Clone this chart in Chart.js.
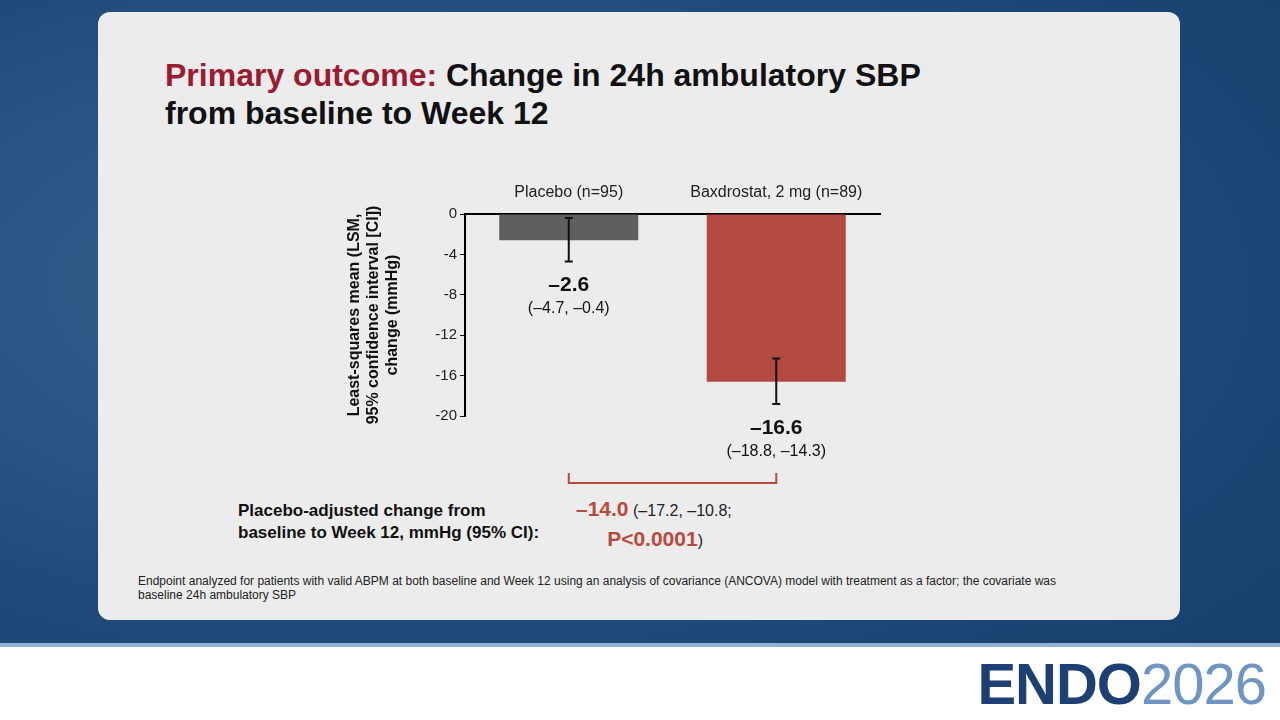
<!DOCTYPE html>
<html><head><meta charset="utf-8">
<script src="https://cdn.jsdelivr.net/npm/chart.js@4"></script>
<style>
body{margin:0;width:1280px;height:720px;overflow:hidden;font-family:"Liberation Sans",Arial,sans-serif;
 background:radial-gradient(ellipse at 30% 40%,#3a6592 0%,#1f4a7a 55%,#163d6b 100%);position:relative}
.card{position:absolute;left:98px;top:12px;width:1082px;height:608px;background:#ececec;border-radius:12px}
.title{position:absolute;left:165px;top:56px;font-size:32px;font-weight:bold;color:#111;line-height:38px}
.title span{color:#9b1b30}
.foot{position:absolute;left:138px;top:574px;font-size:12px;color:#222;width:945px;line-height:14px}
.adj{position:absolute;left:238px;top:500px;font-size:17px;font-weight:bold;color:#111;line-height:22px}
.res{position:absolute;left:576px;top:495px;font-size:16px;color:#222;line-height:28px}
.res b{color:#b84a3d;font-size:21px}
.band{position:absolute;left:0;top:643px;width:1280px;height:77px;background:#fff;border-top:4px solid #8fb2d6}
.logo{position:absolute;right:14px;top:650px;font-size:58px;color:#1d3f73;letter-spacing:-1px}
.logo b{font-weight:bold}
.logo span{color:#6f95c4;font-weight:normal}
canvas{position:absolute}
</style></head><body>
<div class="card"></div>
<div class="title"><span>Primary outcome:</span> Change in 24h ambulatory SBP<br>from baseline to Week 12</div>
<div class="adj">Placebo-adjusted change from<br>baseline to Week 12, mmHg (95% CI):</div>
<div class="res"><b>–14.0</b> (–17.2, –10.8;<br>&nbsp;&nbsp;&nbsp;&nbsp;&nbsp;&nbsp;&nbsp;<b>P&lt;0.0001</b>)</div>
<div class="foot">Endpoint analyzed for patients with valid ABPM at both baseline and Week 12 using an analysis of covariance (ANCOVA) model with treatment as a factor; the covariate was baseline 24h ambulatory SBP</div>
<div class="band"></div>
<div class="logo"><b>ENDO</b><span>2026</span></div>
<div style="position:absolute;left:345px;top:180px;width:560px;height:320px"><canvas id="c"></canvas></div>
<script>
const groups = ['Placebo (n=95)', 'Baxdrostat, 2 mg (n=89)'];
const means = [-2.6, -16.6];
const ciLow = [-4.7, -18.8];
const ciHigh = [-0.4, -14.3];
const meanLabels = ['–2.6', '–16.6'];
const ciLabels = ['(–4.7, –0.4)', '(–18.8, –14.3)'];
const colors = ['#5e605f', '#b34a3f'];

const extras = {
  id: 'extras',
  afterDatasetsDraw(chart) {
    const ctx = chart.ctx, y = chart.scales.y, meta = chart.getDatasetMeta(0);
    ctx.save();
    meta.data.forEach((bar, i) => {
      const x = bar.x, y1 = y.getPixelForValue(ciLow[i]), y2 = y.getPixelForValue(ciHigh[i]);
      ctx.strokeStyle = '#111'; ctx.lineWidth = 2;
      ctx.beginPath();
      ctx.moveTo(x, y1); ctx.lineTo(x, y2);
      ctx.moveTo(x - 4, y1); ctx.lineTo(x + 4, y1);
      ctx.moveTo(x - 4, y2); ctx.lineTo(x + 4, y2);
      ctx.stroke();
      ctx.fillStyle = '#111'; ctx.textAlign = 'center';
      ctx.font = 'bold 21px "Liberation Sans", Arial';
      ctx.fillText(meanLabels[i], x, y1 + 30);
      ctx.font = '16px "Liberation Sans", Arial';
      ctx.fillText(ciLabels[i], x, y1 + 52);
    });
    const a = meta.data[0].x, b = meta.data[1].x, by = 303;
    ctx.strokeStyle = '#b84a3d'; ctx.lineWidth = 2;
    ctx.beginPath();
    ctx.moveTo(a, by - 10); ctx.lineTo(a, by); ctx.lineTo(b, by); ctx.lineTo(b, by - 10);
    ctx.stroke();
    ctx.restore();
  }
};

new Chart(document.getElementById('c'), {
  type: 'bar',
  data: {
    labels: groups,
    datasets: [{ data: means, backgroundColor: colors, barPercentage: 0.67, categoryPercentage: 1 }]
  },
  options: {
    responsive: true, maintainAspectRatio: false, animation: false,
    layout: { padding: { top: 0, bottom: 84, right: 25 } },
    plugins: { legend: { display: false }, tooltip: { enabled: false } },
    scales: {
      x: {
        position: 'top',
        afterFit: s => { s.height = 34; },
        border: { color: '#000', width: 2 },
        grid: { display: false },
        ticks: { color: '#222', font: { size: 16 }, padding: 4 }
      },
      y: {
        min: -20, max: 0,
        afterFit: s => { s.width = 120; },
        border: { color: '#000', width: 2 },
        grid: { drawOnChartArea: false, tickLength: 5, color: '#000' },
        ticks: { stepSize: 4, color: '#222', font: { size: 15 }, callback: v => String(v) },
        title: {
          display: true, color: '#111', font: { size: 16, weight: 'bold' }, padding: 0,
          text: ['Least-squares mean (LSM,', '95% confidence interval [CI])', 'change (mmHg)']
        }
      }
    }
  },
  plugins: [extras]
});
</script>
</body></html>
